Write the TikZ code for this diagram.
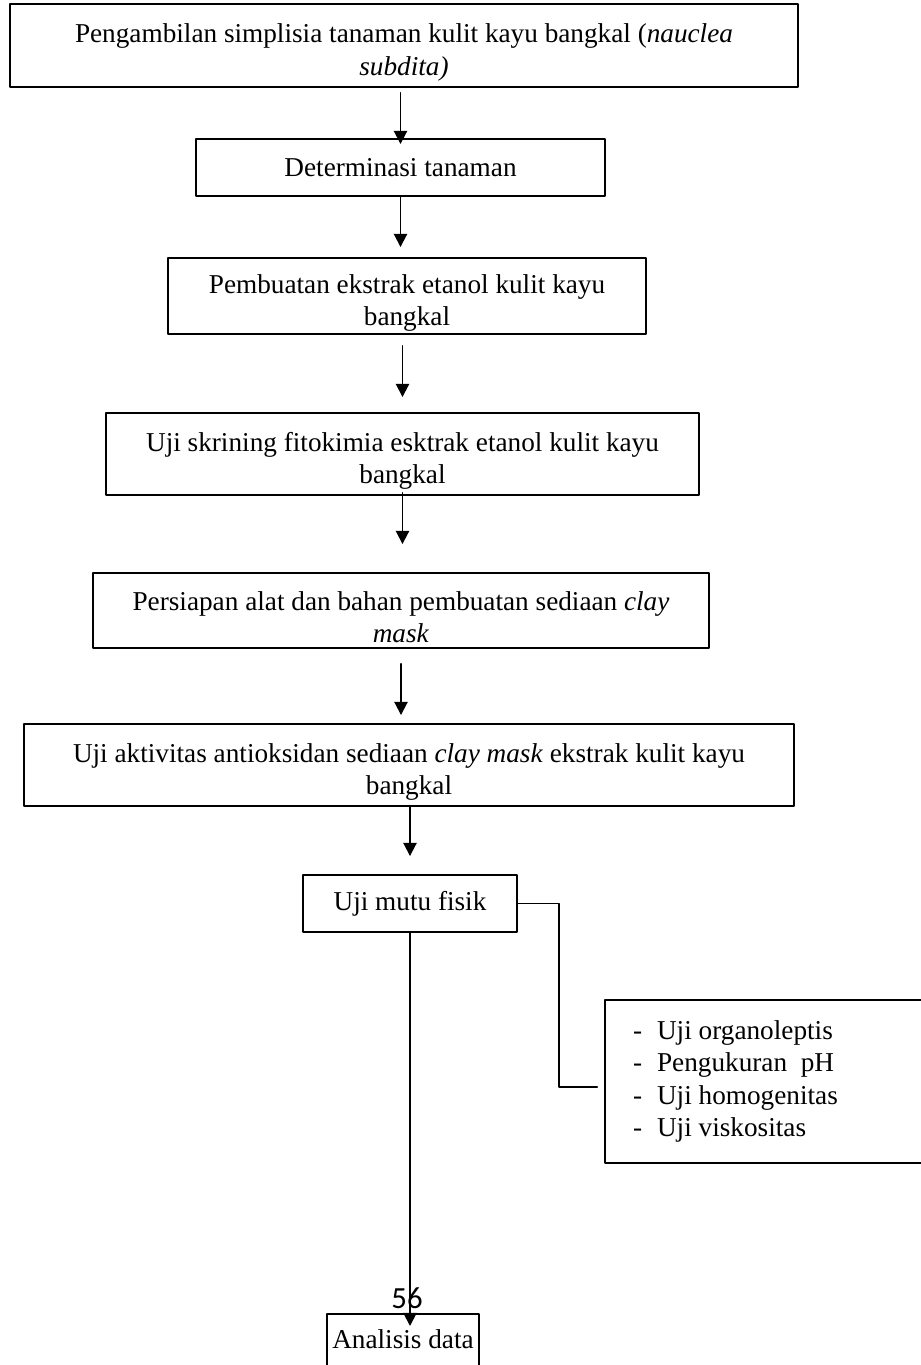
\documentclass[tikz,border=0pt]{standalone}
\usepackage{fontspec}
\setmainfont{Liberation Serif}
\newfontfamily\pagefont{Carlito}
\usetikzlibrary{arrows.meta}

\tikzset{
  flowbox/.style={draw, line width=1.1pt, align=center, inner sep=0pt, font=\fontsize{15.5}{18.3}\selectfont},
  twoline/.style={text height=1.3cm},
  flowarrow/.style={line width=1.1pt, -{Triangle[length=7.5pt,width=7.5pt]}},
  flowline/.style={line width=1.1pt}
}

\begin{document}
\begin{tikzpicture}[line cap=round, line join=round, x=0.02cm, y=-0.02cm]

            \useasboundingbox (0,0) rectangle (920,1365);

            \node[flowbox, twoline, minimum width=15.76cm, minimum height=1.66cm] (ambil) at (404,45.5)
                {Pengambilan simplisia tanaman kulit kayu bangkal (\textit{nauclea}\\ \textit{subdita)}};
            \node[flowbox, minimum width=8.18cm, minimum height=1.14cm] (det) at (400.5,167.5)
                {Determinasi tanaman};
            \node[flowbox, twoline, minimum width=9.56cm, minimum height=1.52cm] (ekstrak) at (407,296)
                {Pembuatan ekstrak etanol kulit kayu\\ bangkal};
            \node[flowbox, twoline, minimum width=11.86cm, minimum height=1.64cm] (skrining) at (402.5,454)
                {Uji skrining fitokimia esktrak etanol kulit kayu\\ bangkal};
            \node[flowbox, twoline, minimum width=12.32cm, minimum height=1.5cm] (alat) at (401,610.5)
                {Persiapan alat dan bahan pembuatan sediaan \textit{clay}\\ \textit{mask}};
            \node[flowbox, twoline, minimum width=15.41cm, minimum height=1.64cm] (aktivitas) at (409,765)
                {Uji aktivitas antioksidan sediaan \textit{clay mask} ekstrak kulit kayu\\ bangkal};
            \node[flowbox, minimum width=4.28cm, minimum height=1.14cm] (mutu) at (410,903.5)
                {Uji mutu fisik};
            \node[flowbox, align=flush left, minimum height=3.26cm, text width=5.58cm, inner xsep=0.56cm] (uji) at (772.5,1081.5)
                {-\hspace{0.3cm}Uji organoleptis\\ -\hspace{0.3cm}Pengukuran\ \ pH\\
                 -\hspace{0.3cm}Uji homogenitas\\ -\hspace{0.3cm}Uji viskositas};
            \node[flowbox, anchor=north, minimum width=3.04cm, inner ysep=0.1cm,
                  text height=0.6cm, text depth=0.6cm] (analisis) at (403,1313)
                {Analisis data};

            \node[font=\pagefont\fontsize{17.5}{20}\selectfont, inner sep=0pt] (page) at (407,1298) {56};

            \draw[flowarrow, shorten <=0.1cm, shorten >=-0.12cm] (ambil.south -| det.north) -- (det.north);
            \draw[flowarrow, shorten >=0.2cm] (det.south) -- (det.south |- ekstrak.north);
            \draw[flowarrow, shorten <=0.22cm, shorten >=0.3cm] (ekstrak.south -| skrining.north) -- (skrining.north);
            \draw[flowarrow, shorten <=-0.06cm, shorten >=0.56cm] (skrining.south) -- (skrining.south |- alat.north);
            \draw[flowarrow, shorten <=0.3cm, shorten >=0.16cm] (alat.south) -- (alat.south |- aktivitas.north);
            \draw[flowarrow, shorten >=0.36cm] (aktivitas.south -| mutu.north) -- (mutu.north);

            \draw[flowline] (mutu.east) -- ++(41,0) |- ([xshift=-0.14cm,yshift=-0.11cm]uji.west);
            \draw[flowarrow, shorten >=-0.26cm] (mutu.south) -- (mutu.south |- analisis.north);

\end{tikzpicture}
\end{document}
